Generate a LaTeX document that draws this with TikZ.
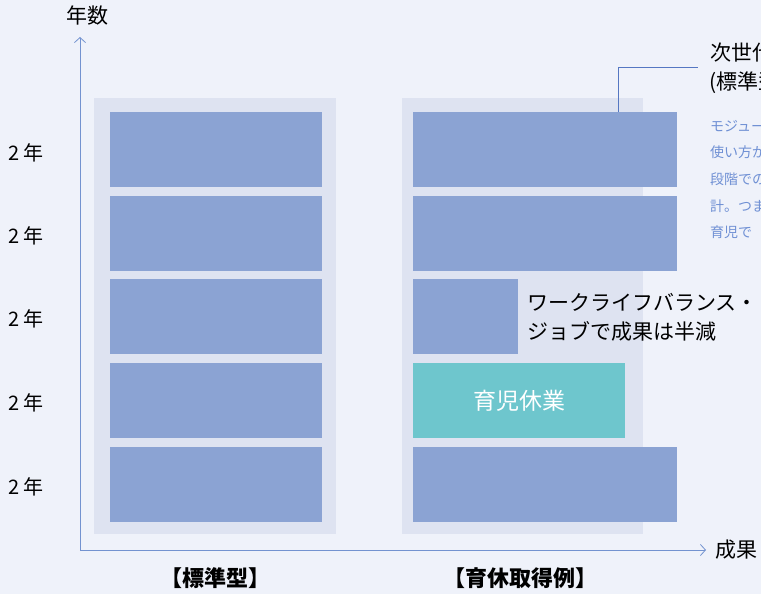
\documentclass[tikz,border=0pt]{standalone}
\usepackage{fontspec}
\setmainfont{Noto Sans CJK JP}
\usetikzlibrary{arrows.meta}
\definecolor{bgc}{HTML}{EFF2FA}
\definecolor{panelc}{HTML}{DEE3F1}
\definecolor{boxc}{HTML}{8BA3D3}
\definecolor{tealc}{HTML}{6EC6CD}
\definecolor{axisc}{HTML}{7393D0}
\definecolor{linec}{HTML}{5577C2}
\definecolor{smallc}{HTML}{6F90D4}
\begin{document}
\begin{tikzpicture}[x=1pt,y=-1pt,
  panel/.style={fill=panelc,draw=none},
  blk/.style={fill=boxc,draw=none},
  axisline/.style={draw=axisc,line width=0.9pt,-{Straight Barb[length=5pt,width=11pt,line width=0.8pt]}},
  yrlabel/.style={font=\fontsize{20}{24}\selectfont,anchor=west,inner sep=0pt},
  caption/.style={font=\bfseries\fontsize{22}{26}\selectfont,inner sep=0pt},
  small/.style={font=\fontsize{14}{17}\selectfont,text=smallc,anchor=west,inner sep=0pt},
  bigtxt/.style={font=\fontsize{21}{25}\selectfont,anchor=west,inner sep=0pt}]
\clip (0,0) rectangle (761,594);
\fill[bgc] (0,0) rectangle (761,594);
% panels
\fill[panel] (94,98) rectangle (336,534);
\fill[panel] (402,98) rectangle (643,534);
% left blocks
\foreach \t in {112,195.5,279,363,447}{
  \fill[blk] (110,\t) rectangle (322,\t+75);
}
% right blocks
\fill[blk] (413,112) rectangle (677,187);
\fill[blk] (413,195.5) rectangle (677,270.5);
\fill[blk] (413,279) rectangle (518,354);
\node[fill=tealc,minimum width=212pt,minimum height=75pt,inner sep=0pt,anchor=north west,text=white,font=\fontsize{23}{27}\selectfont] (ikuji) at (413,363) {育児休業};
\node[blk,minimum width=264pt,minimum height=75pt,inner sep=0pt,anchor=north west] (r5) at (413,447) {};
% axes
\coordinate (o) at (80,550);
\coordinate (ytop) at (80,37);
\coordinate (xend) at (706,550);
\draw[axisline] (o) -- (ytop);
\draw[axisline] (o) -- (xend);
\node[font=\fontsize{21}{25}\selectfont,inner sep=0pt] (ylab) at (87,16) {年数};
\node[font=\fontsize{21}{25}\selectfont,anchor=west,inner sep=0pt] (xlab) at (715,550) {成果};
% year labels
\foreach \y in {153,236,319,403,487}{
  \node[yrlabel] at (8,\y) {2 年};
}
% captions
\node[caption] (c1) at (215,578) {【標準型】};
\node[caption] (c2) at (520,578) {【育休取得例】};
% callout
\coordinate (cA) at (618.5,112);
\coordinate (cB) at (618.5,67.5);
\coordinate (cC) at (698,67.5);
\draw[linec,line width=1pt] (cA) -- (cB) -- (cC);
\node[bigtxt] (h1) at (710,53) {次世代型};
\node[bigtxt] (h2) at (709,83) {(標準型};
\node[small] at (710,126) {モジュール};
\node[small] at (710,152) {使い方が};
\node[small] at (710,179) {段階での};
\node[small] at (710,206) {計。つま};
\node[small] at (710,232) {育児で};
% work-life text
\node[bigtxt] (wl1) at (527,302) {ワークライフバランス・};
\node[bigtxt] (wl2) at (527,331) {ジョブで成果は半減};
\end{tikzpicture}
\end{document}
